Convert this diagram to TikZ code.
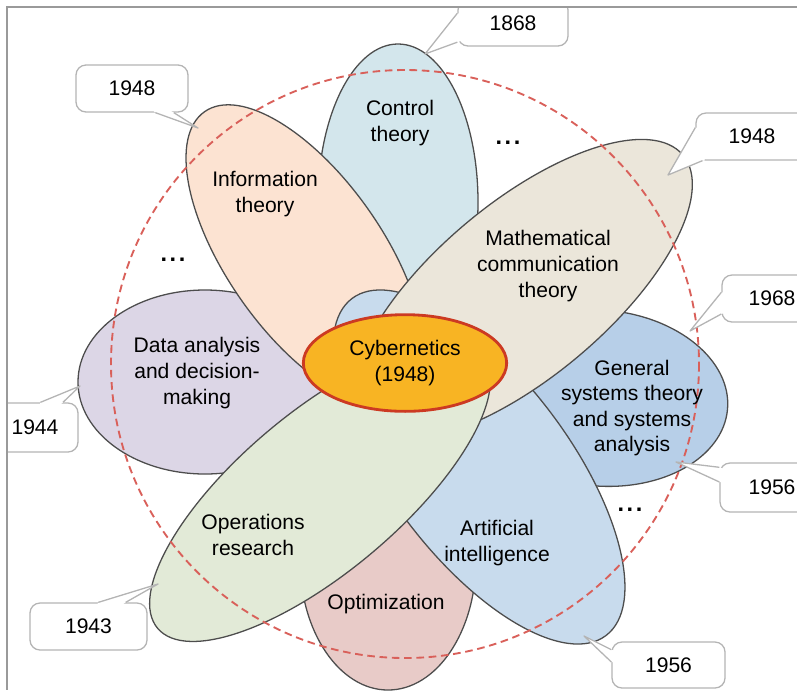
\documentclass[tikz,border=0pt]{standalone}
\usepackage{fontspec}
\setmainfont{Liberation Sans}
\usetikzlibrary{shapes.geometric,calc}

\definecolor{petalline}{HTML}{4D4D4D}
\definecolor{ctrlblue}{HTML}{D3E6EC}
\definecolor{infopeach}{HTML}{FCE3D2}
\definecolor{mathbeige}{HTML}{EBE6DA}
\definecolor{gsblue}{HTML}{B7CFE8}
\definecolor{aiblue}{HTML}{C8DBED}
\definecolor{optpink}{HTML}{E8CBC8}
\definecolor{opsgreen}{HTML}{E2EAD7}
\definecolor{datalav}{HTML}{DCD6E6}
\definecolor{boxgray}{HTML}{B4B4B4}
\definecolor{framegray}{HTML}{9A9A9A}
\definecolor{dashred}{HTML}{D9605A}
\definecolor{cybred}{HTML}{CC3A22}
\definecolor{cyborange}{HTML}{F8B423}

% tail of a year bubble: node, two border angles, tip
\newcommand{\yeartail}[4]{%
  \fill[white] (#1.#2) -- (#4) -- (#1.#3)
    -- ($(#1.center)!0.85!(#1.#3)$) -- ($(#1.center)!0.85!(#1.#2)$) -- cycle;
  \draw[boxgray, line width=1.1pt, line join=round] (#1.#2) -- (#4) -- (#1.#3);}

\begin{document}
\begin{tikzpicture}[x=0.03cm, y=-0.03cm,
        petal/.style={draw=petalline, line width=1.1pt},
        lbl/.style={align=center, font=\fontsize{18}{21.8}\selectfont},
        dotlbl/.style={font=\fontsize{20}{24}\selectfont\bfseries},
        yearbox/.style={draw=boxgray, fill=white, line width=1.1pt,
                        rounded corners=0.3cm, inner sep=0pt,
                        font=\fontsize{18}{21.8}\selectfont},
        cybnode/.style={ellipse, draw=cybred, fill=cyborange,
                        line width=2.4pt, inner sep=0pt, align=center,
                        minimum width=6.1cm, minimum height=2.9cm,
                        font=\fontsize{18}{21.8}\selectfont}]
    \useasboundingbox (0,0) rectangle (797,690);
    \begin{scope}
    \clip (7,7) rectangle (797,690);
    % petals, back to front
    \filldraw[petal, fill=ctrlblue] (398,202) ellipse [x radius=80, y radius=158];
    \filldraw[petal, fill=optpink] (388,560) ellipse [x radius=88, y radius=130];
    \filldraw[petal, fill=gsblue, rotate around={-5:(600,398)}]
        (600,398) ellipse [x radius=128, y radius=88];
    \filldraw[petal, fill=datalav] (205,382) ellipse [x radius=127, y radius=92];
    \filldraw[petal, fill=infopeach, rotate around={-55:(305,255)}]
        (305,255) ellipse [x radius=175, y radius=78];
    \filldraw[petal, fill=aiblue, rotate around={-53:(479,467)}]
        (479,467) ellipse [x radius=211, y radius=90];
    \filldraw[petal, fill=mathbeige, rotate around={40:(522,290)}]
        (522,290) ellipse [x radius=210, y radius=87];
    \filldraw[petal, fill=opsgreen, rotate around={40:(320,492)}]
        (320,492) ellipse [x radius=212, y radius=80];

    \draw[dashred, line width=1.6pt, dash pattern=on 6.5pt off 4pt]
        (405,364) circle [radius=294];

    \node[lbl] (ctrl) at (400,123) {Control\\theory};
    \node[lbl] (info) at (265,194) {Information\\theory};
    \node[lbl] (math) at (548,266) {Mathematical\\communication\\theory};
    \node[lbl] (data) at (197,373) {Data analysis\\and decision-\\making};
    \node[lbl] (gsys) at (632,408) {General\\systems theory\\and systems\\analysis};
    \node[lbl] (ai) at (497,543) {Artificial\\intelligence};
    \node[lbl] (opt) at (386,604) {Optimization};
    \node[lbl] (ops) at (253,535) {Operations\\research};
    \node[cybnode] (cyb) at (405,363) {Cybernetics\\(1948)};

    \node[dotlbl] (dotsA) at (508,143) {.\hspace{2.2pt}.\hspace{2.2pt}.};
    \node[dotlbl] (dotsB) at (173,260) {.\hspace{2.2pt}.\hspace{2.2pt}.};
    \node[dotlbl] (dotsC) at (630,510) {.\hspace{2.2pt}.\hspace{2.2pt}.};

    % year bubbles
    \node[yearbox, minimum width=3.3cm, minimum height=1.38cm] (c1868) at (513,23) {1868};
    \node[yearbox, minimum width=3.36cm, minimum height=1.41cm] (c1948a) at (132,88.5) {1948};
    \node[yearbox, minimum width=3.36cm, minimum height=1.41cm] (c1948b) at (752,136.5) {1948};
    \node[yearbox, minimum width=3.0cm, minimum height=1.41cm] (c1968) at (772,298.5) {1968};
    \node[yearbox, minimum width=2.58cm, minimum height=1.47cm] (c1944) at (35,427.5) {1944};
    \node[yearbox, minimum width=3.12cm, minimum height=1.47cm] (c1956a) at (772,487.5) {1956};
    \node[yearbox, minimum width=3.51cm, minimum height=1.41cm] (c1943) at (88.5,626.5) {1943};
    \node[yearbox, minimum width=3.39cm, minimum height=1.38cm] (c1956b) at (668.5,665) {1956};

    \coordinate (t1868) at (425,54);
    \coordinate (t1948a) at (198,128);
    \coordinate (t1948b) at (668,175);
    \coordinate (t1968) at (690,331);
    \coordinate (t1944) at (80,386);
    \coordinate (t1956a) at (676,462);
    \coordinate (t1943) at (158,584);
    \coordinate (t1956b) at (584,636);

    \yeartail{c1868}{170}{199}{t1868}
    \yeartail{c1948a}{314}{330}{t1948a}
    \yeartail{c1948b}{171}{206}{t1948b}
    \yeartail{c1968}{173}{197}{t1968}
    \yeartail{c1944}{78}{42}{t1944}
    \yeartail{c1956a}{159}{174}{t1956a}
    \yeartail{c1943}{68}{33}{t1943}
    \yeartail{c1956b}{165}{177}{t1956b}
    \end{scope}

    \draw[framegray, line width=1.1pt] (797,7) -- (7,7) -- (7,690);
\end{tikzpicture}
\end{document}
